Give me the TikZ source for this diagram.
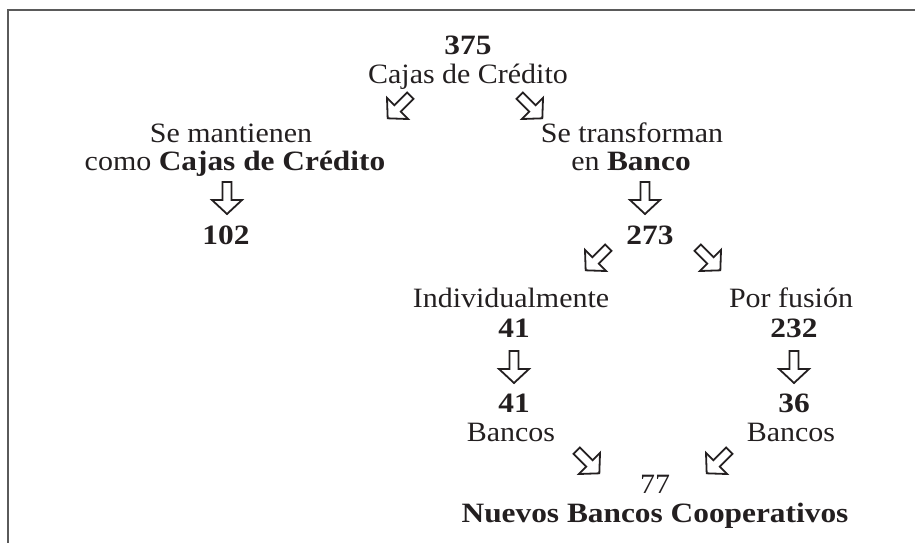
\documentclass[tikz,border=0pt]{standalone}
\usepackage{fontspec}
\setmainfont{Liberation Serif}[UprightFeatures={FakeStretch=1.07},BoldFeatures={FakeStretch=1.12}]
\definecolor{ink}{HTML}{231F20}
\definecolor{framegray}{HTML}{5A5A5A}
\tikzset{
  lbl/.style={inner sep=0pt, anchor=base, text=ink, font=\fontsize{28}{30}\selectfont},
  hollow/.pic={\draw[ink, line width=1.8pt, line join=miter]
     (-4.5,-16) -- (4.5,-16) -- (4.5,2) -- (15,2) -- (0,16) -- (-15,2) -- (-4.5,2) -- cycle;},
}
\begin{document}
\begin{tikzpicture}[x=1pt,y=-1pt]
\useasboundingbox (0,0) rectangle (915,543);
\draw[framegray, line width=2pt] (8,543) -- (8,10) -- (915,10);
% top
\node[lbl] (n375) at (468,55) {\textbf{375}};
\node[lbl] (cajas) at (468,84) {Cajas de Crédito};
\pic[rotate=-45] at (399,107) {hollow};
\pic[rotate=45] at (531,107) {hollow};
% left branch
\node[lbl] (mant) at (231,142) {Se mantienen};
\node[lbl] (como) at (235,170) {como \textbf{Cajas de Crédito}};
\pic at (227,198) {hollow};
\node[lbl] (n102) at (226,244) {\textbf{102}};
% right branch
\node[lbl] (trans) at (632,142) {Se transforman};
\node[lbl] (enb) at (631,170) {en \textbf{Banco}};
\pic at (645,198) {hollow};
\node[lbl] (n273) at (650,244) {\textbf{273}};
\pic[rotate=-45] at (597,259) {hollow};
\pic[rotate=45] at (709,259) {hollow};
% individual
\node[lbl] (indiv) at (511,307) {Individualmente};
\node[lbl] (n41a) at (514,337) {\textbf{41}};
\pic at (514,367) {hollow};
\node[lbl] (n41b) at (514,412) {\textbf{41}};
\node[lbl] (banA) at (511,441) {Bancos};
% fusion
\node[lbl] (fus) at (791,307) {Por fusión};
\node[lbl] (n232) at (794,337) {\textbf{232}};
\pic at (794,367) {hollow};
\node[lbl] (n36) at (794,412) {\textbf{36}};
\node[lbl] (banB) at (791,441) {Bancos};
% bottom
\pic[rotate=45] at (588,462) {hollow};
\pic[rotate=-45] at (718,462) {hollow};
\node[lbl] (n77) at (655,493) {77};
\node[lbl] (nbc) at (655,522) {\textbf{Nuevos Bancos Cooperativos}};
\end{tikzpicture}
\end{document}
